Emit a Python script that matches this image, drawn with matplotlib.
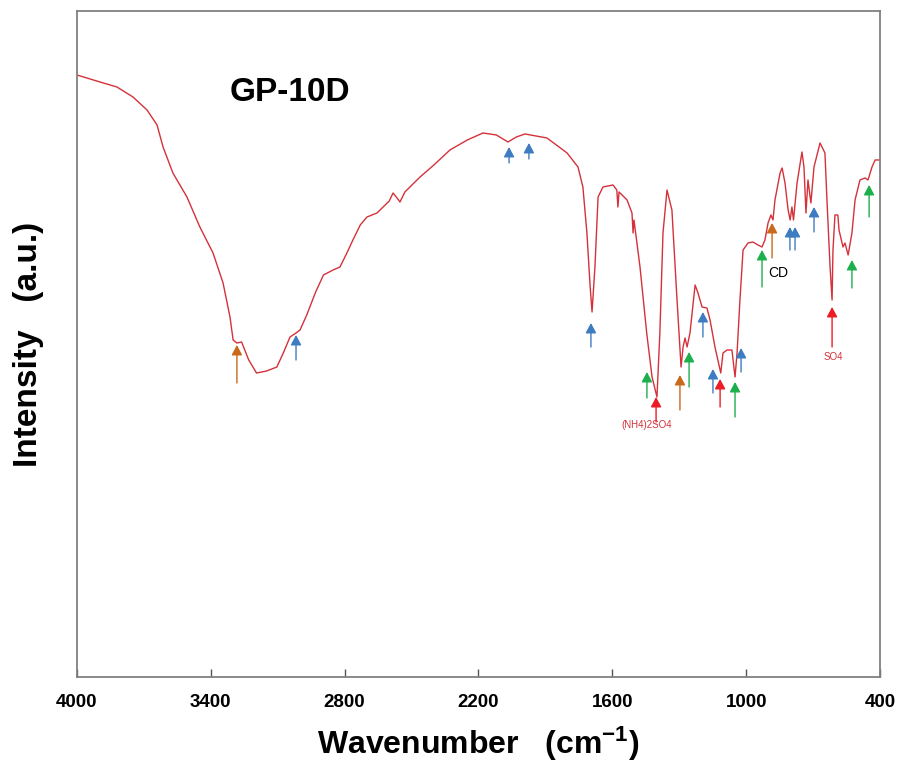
import matplotlib
matplotlib.use("Agg")
import matplotlib.pyplot as plt

plt.rcParams['font.family'] = ['Liberation Sans', 'DejaVu Sans']
plt.rcParams['mathtext.fontset'] = 'custom'
plt.rcParams['mathtext.rm'] = 'Liberation Sans:bold'
plt.rcParams['mathtext.bf'] = 'Liberation Sans:bold'
plt.rcParams['mathtext.it'] = 'Liberation Sans:bold'

# ---- spectrum (wavenumber, intensity a.u.) ----
wavenumber = [4000, 3897, 3821, 3749, 3686, 3641, 3614, 3570, 3507, 3449, 3390, 3345,
              3314, 3300, 3283, 3262, 3230, 3195, 3150, 3104, 3075, 3045, 3018, 3000,
              2970, 2930, 2895, 2852, 2821, 2790, 2763, 2730, 2700, 2655, 2600, 2583,
              2565, 2552, 2530, 2462, 2400, 2328, 2250, 2180, 2120, 2068, 2030, 1992,
              1893, 1803, 1754, 1732, 1714, 1700, 1691, 1678, 1664, 1642, 1597, 1580,
              1575, 1570, 1534, 1512, 1507, 1503, 1476, 1446, 1422, 1400, 1387, 1373,
              1355, 1333, 1310, 1292, 1283, 1274, 1265, 1252, 1229, 1216, 1198, 1176,
              1162, 1140, 1127, 1114, 1104, 1086, 1064, 1059, 1050, 1041, 1028, 1014,
              992, 970, 947, 929, 916, 902, 889, 880, 871, 848, 839, 826, 812, 803,
              795, 788, 772, 750, 741, 732, 723, 710, 696, 669, 647, 638, 624, 615,
              611, 602, 589, 584, 566, 557, 543, 526, 512, 490, 467, 454, 436, 422, 400]
intensity = [602, 595, 590, 580, 567, 552, 530, 504, 480, 450, 424, 394,
             360, 337, 334, 335, 317, 304, 306, 310, 324, 340, 344, 347,
             362, 385, 402, 407, 410, 424, 437, 452, 460, 464, 476, 484,
             479, 475, 485, 500, 512, 527, 537, 544, 542, 535, 540, 543,
             539, 524, 510, 490, 444, 392, 365, 410, 480, 490, 492, 487,
             470, 485, 477, 464, 444, 457, 410, 344, 300, 280, 344, 444,
             487, 467, 377, 310, 330, 339, 330, 344, 392, 384, 370, 369,
             357, 330, 317, 304, 324, 327, 327, 317, 300, 324, 377, 427,
             434, 435, 432, 430, 437, 454, 462, 457, 477, 504, 509, 494, 467, 457,
             470, 457, 494, 525, 510, 464, 497, 474, 510, 534, 524, 477, 410, 377,
             427, 462, 462, 447, 430, 434, 422, 444, 477, 497, 499, 497, 510, 517, 517]

# ---- peak arrows: position, tail, tip, colour group ----
arrow_wn = [3283, 3018, 2063, 1974, 1696, 1445, 1404, 1297, 1256, 1194, 1149,
            1117, 1050, 1023, 929, 884, 804, 781, 696, 615, 526, 449]
arrow_tail = [294, 317, 514, 518, 330, 279, 255, 267, 290, 340, 284,
              270, 260, 305, 390, 419, 427, 427, 445, 330, 389, 460]
arrow_tip = [332, 342, 530, 534, 354, 305, 280, 302, 325, 365, 308,
             298, 295, 329, 427, 454, 450, 450, 470, 370, 417, 492]
arrow_group = ['O', 'B', 'B', 'B', 'B', 'G', 'R', 'O', 'G', 'B', 'B',
               'R', 'G', 'B', 'G', 'O', 'B', 'B', 'B', 'R', 'G', 'G']
group_colors = {'B': '#3d7cc0', 'O': '#c8691c', 'G': '#1eaf4d', 'R': '#ec1c24'}

tick_values = [4000, 3400, 2800, 2200, 1600, 1000, 400]

fig = plt.figure(figsize=(8.98, 7.72), dpi=100)
ax = fig.add_axes([0.0857, 0.123, 0.8943, 0.8628])

ax.plot(wavenumber, intensity, color='#d4313a', lw=1.0)

for wn, t0, t1, g in zip(arrow_wn, arrow_tail, arrow_tip, arrow_group):
    ax.annotate('', xy=(wn, t1), xytext=(wn, t0),
                arrowprops=dict(arrowstyle='-|>,head_length=0.6,head_width=0.32',
                                color=group_colors[g], lw=1.0, shrinkA=0, shrinkB=0))

ax.text(3045, 584, 'GP-10D', fontsize=24, fontweight='bold', ha='center', va='center')
ax.text(1445, 252, '(NH4)2SO4', fontsize=7, color='#d4313a', ha='center', va='center')
ax.text(611, 320, 'SO4', fontsize=7, color='#d4313a', ha='center', va='center')
ax.text(857, 404, 'CD', fontsize=10, color='black', ha='center', va='center')

ax.set_xlim(4000, 400)
ax.set_ylim(0, 666)
ax.set_xticks(tick_values)
ax.set_xticklabels([str(v) for v in tick_values], fontsize=13.5, fontweight='bold')
ax.set_yticks([])
ax.tick_params(axis='x', direction='in', length=6, width=1, color='#555555', pad=12)
for s in ax.spines.values():
    s.set_color('#808080')
    s.set_linewidth(1.3)

ax.set_xlabel(r'Wavenumber   (cm$^{-1}$)', fontsize=23, fontweight='bold', labelpad=10)
ax.set_ylabel('Intensity   (a.u.)', fontsize=24, fontweight='bold', labelpad=24)

fig.savefig('out.png', dpi=100)
